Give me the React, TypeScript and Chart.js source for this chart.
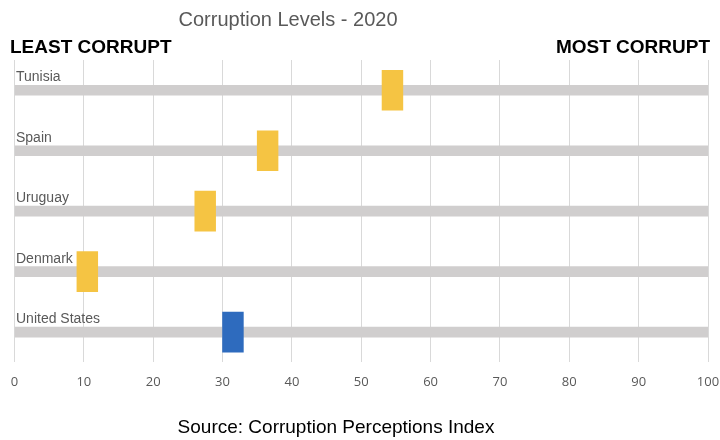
import React, { useEffect, useRef } from "react";
import { Chart, registerables } from "chart.js";

Chart.register(...registerables);

const countries = ["Tunisia", "Spain", "Uruguay", "Denmark", "United States"];
const corruptionScores = [56, 38, 29, 12, 33];
const markerColors = ["#F5C443", "#F5C443", "#F5C443", "#F5C443", "#2E6BBE"];
const trackRange: [number, number] = [0, 100];
const xTicks = [0, 10, 20, 30, 40, 50, 60, 70, 80, 90, 100];
const MARKER_SPAN = 3;

const textPlugin = {
  id: "texts",
  afterDraw(chart: any) {
    const ctx = chart.ctx;
    const y = chart.scales.y;
    ctx.save();
    ctx.textBaseline = "middle";
    ctx.fillStyle = "#595959";
    ctx.font = "20px 'Liberation Sans', Arial, sans-serif";
    ctx.textAlign = "center";
    ctx.fillText("Corruption Levels - 2020", 288, 20);

    ctx.fillStyle = "#000000";
    ctx.font = "bold 19px 'Liberation Sans', Arial, sans-serif";
    ctx.textAlign = "left";
    ctx.fillText("LEAST CORRUPT", 10, 48);
    ctx.textAlign = "right";
    ctx.fillText("MOST CORRUPT", 710, 48);

    ctx.font = "19px 'Liberation Sans', Arial, sans-serif";
    ctx.textAlign = "center";
    ctx.fillText("Source: Corruption Perceptions Index", 336, 428);

    ctx.fillStyle = "#595959";
    ctx.font = "14px 'Liberation Sans', Arial, sans-serif";
    ctx.textAlign = "left";
    countries.forEach((c, i) => {
      ctx.fillText(c, 16, y.getPixelForValue(i) - 13);
    });
    ctx.restore();
  },
};

export default function App() {
  const ref = useRef<HTMLCanvasElement>(null);
  useEffect(() => {
    if (!ref.current) return;
    const chart = new Chart(ref.current, {
      type: "bar",
      data: {
        labels: countries,
        datasets: [
          {
            label: "Score",
            data: corruptionScores.map((v) => [v - MARKER_SPAN, v]) as any,
            backgroundColor: markerColors,
            barThickness: 40,
            grouped: false,
            order: 0,
          } as any,
          {
            label: "Track",
            data: countries.map(() => trackRange) as any,
            backgroundColor: "#D0CECE",
            barThickness: 10,
            grouped: false,
            order: 1,
          } as any,
        ],
      },
      options: {
        indexAxis: "y",
        animation: false,
        responsive: false,
        layout: { padding: { left: 14.5, right: 12, top: 60, bottom: 38 } },
        plugins: {
          legend: { display: false },
          title: { display: false },
          tooltip: { enabled: false },
        },
        scales: {
          x: {
            min: 0,
            max: 100,
            afterBuildTicks: (s: any) => {
              s.ticks = xTicks.map((v) => ({ value: v }));
            },
            afterFit: (s: any) => {
              s.paddingLeft = 0;
              s.paddingRight = 0;
            },
            grid: { color: "#D9D9D9", drawTicks: false, lineWidth: 1 },
            border: { display: false },
            ticks: {
              color: "#595959",
              padding: 12,
              font: { size: 13, family: "'Open Sans', sans-serif" },
            },
          },
          y: {
            display: false,
          },
        },
      },
      plugins: [textPlugin],
    });
    return () => chart.destroy();
  }, []);
  return (
    <div style={{ position: "fixed", left: 0, top: 0, width: 720, height: 440, background: "#fff" }}>
      <canvas ref={ref} width={720} height={440} />
    </div>
  );
}
